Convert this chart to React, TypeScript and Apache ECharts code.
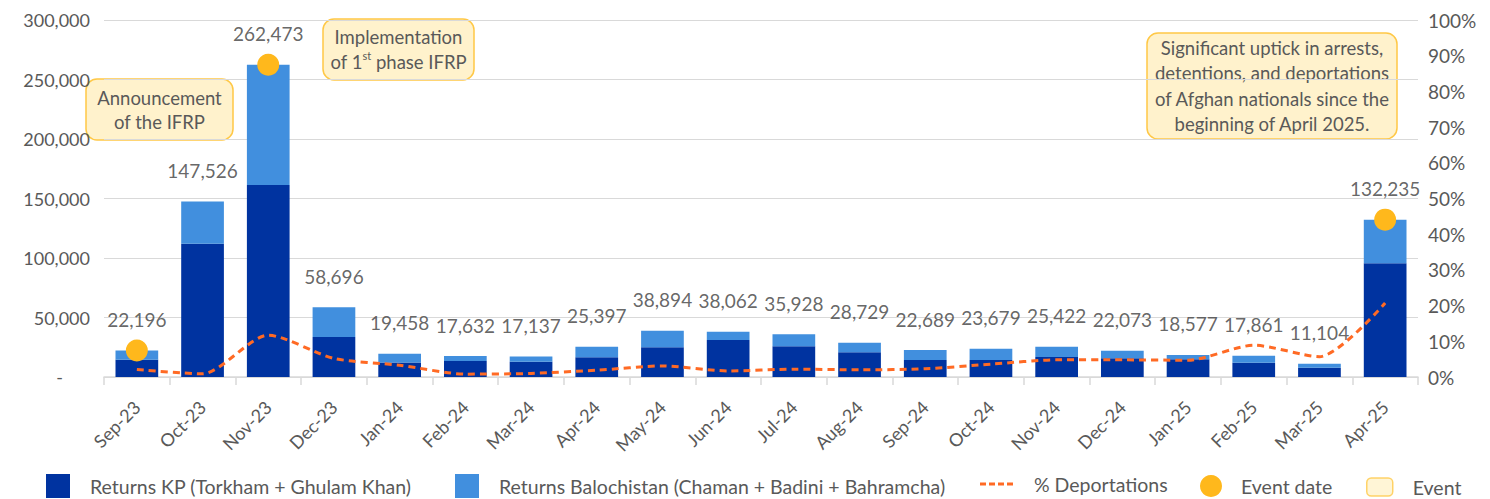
import React, { useEffect, useRef } from "react";
import * as echarts from "echarts";

const categories = ["Sep-23","Oct-23","Nov-23","Dec-23","Jan-24","Feb-24","Mar-24","Apr-24","May-24","Jun-24","Jul-24","Aug-24","Sep-24","Oct-24","Nov-24","Dec-24","Jan-25","Feb-25","Mar-25","Apr-25"];
const totals = [22196,147526,262473,58696,19458,17632,17137,25397,38894,38062,35928,28729,22689,23679,25422,22073,18577,17861,11104,132235];
const returnsKP = [14600,112000,161300,33600,12100,13400,12900,16500,25000,31000,25800,20700,14300,14300,16800,15700,15000,12000,7800,95500];
const returnsBal = [7596,35526,101173,25096,7358,4232,4237,8897,13894,7062,10128,8029,8389,9379,8622,6373,3577,5861,3304,36735];
const pctDeportations = [2.1,0.9,11.7,5.2,3.3,0.8,1.0,1.9,3.1,1.7,2.2,2.0,2.3,3.6,4.8,4.8,4.7,8.9,5.7,20.7];
const eventDates = [22196,null,262473,null,null,null,null,null,null,null,null,null,null,null,null,null,null,null,null,132235];

const FONT = "Lato, 'Open Sans', sans-serif";
const DARK = "#0033A0";
const LIGHT = "#418FDE";
const ORANGE = "#FF6A24";
const YELLOW = "#FFB81C";
const BOX_FILL = "#FFF2CC";
const BOX_STROKE = "#FFC846";
const TXT = "#404040";
const AX = "#595959";

function box(x: number, y: number, w: number, h: number, text: string, lh: number) {
  return {
    type: "group",
    x,
    y,
    children: [
      { type: "rect", shape: { x: 0, y: 0, width: w, height: h, r: 11 }, style: { fill: BOX_FILL, stroke: BOX_STROKE, lineWidth: 1.5 } },
      {
        type: "text",
        x: w / 2,
        y: h / 2,
        style: {
          text,
          fill: AX,
          fontFamily: FONT,
          fontSize: 18.5,
          align: "center",
          verticalAlign: "middle",
          lineHeight: lh,
          rich: {
            n: { fontSize: 18.5, fontFamily: FONT, fill: AX, lineHeight: lh },
            sup: { fontSize: 11, fontFamily: FONT, fill: AX, verticalAlign: "top", lineHeight: lh, padding: [0, 0, 8, 0] },
          },
        },
      },
    ],
  };
}

export default function App() {
  const ref = useRef<HTMLDivElement>(null);
  useEffect(() => {
    if (!ref.current) return;
    const chart = echarts.init(ref.current, undefined, { renderer: "svg" });
    const legendText = { color: AX, fontSize: 19.5, fontFamily: FONT, padding: [0, 0, 0, 15] };
    const lg = { selectedMode: false, padding: 0, textStyle: legendText };
    chart.setOption({
      animation: false,
      textStyle: { fontFamily: FONT },
      grid: { left: 104, right: 72, top: 20, bottom: 122 },
      legend: [
        { ...lg, left: 46, top: 474, itemWidth: 24, itemHeight: 24, icon: "rect", data: ["Returns KP (Torkham + Ghulam Khan)"] },
        { ...lg, left: 455, top: 474, itemWidth: 24, itemHeight: 24, icon: "rect", data: ["Returns Balochistan (Chaman + Badini + Bahramcha)"] },
        {
          ...lg,
          left: 980,
          top: 474,
          itemWidth: 33,
          itemHeight: 24,
          icon: "path://M0,0H6V3H0Z M9,0H15V3H9Z M18,0H24V3H18Z M27,0H33V3H27Z",
          textStyle: { ...legendText, padding: [0, 0, 0, 16] },
          data: [{ name: "% Deportations", itemStyle: { color: ORANGE } }],
        },
        { ...lg, left: 1200, top: 475, itemWidth: 22, itemHeight: 22, icon: "circle", textStyle: { ...legendText, padding: [0, 0, 0, 14] }, data: ["Event date"] },
        {
          ...lg,
          left: 1366,
          top: 477,
          itemWidth: 26,
          itemHeight: 18,
          icon: "roundRect",
          textStyle: { ...legendText, padding: [0, 0, 0, 15] },
          data: [{ name: "Event", itemStyle: { color: BOX_FILL, borderColor: BOX_STROKE, borderWidth: 1.5 } }],
        },
      ],
      xAxis: {
        type: "category",
        data: categories,
        boundaryGap: true,
        axisLine: { lineStyle: { color: "#D9D9D9", width: 1.5 } },
        axisTick: { show: true, length: 8, lineStyle: { color: "#D9D9D9", width: 1.5 } },
        axisLabel: { rotate: 45, color: AX, fontSize: 18, fontFamily: FONT, margin: 27, interval: 0 },
      },
      yAxis: [
        {
          type: "value",
          min: 0,
          max: 300000,
          interval: 50000,
          splitLine: { lineStyle: { color: "#D9D9D9", width: 1 } },
          axisLine: { show: false },
          axisTick: { show: false },
          axisLabel: {
            color: AX,
            fontSize: 18,
            fontFamily: FONT,
            margin: 14,
            formatter: (v: number) => (v === 0 ? "{d|-}" : v.toLocaleString("en-US")),
            rich: { d: { color: AX, fontSize: 18, fontFamily: FONT, padding: [0, 27, 0, 0] } },
          },
        },
        {
          type: "value",
          min: 0,
          max: 100,
          interval: 10,
          splitLine: { show: false },
          axisLine: { show: false },
          axisTick: { show: false },
          axisLabel: { color: AX, fontSize: 19, fontFamily: FONT, margin: 10, formatter: "{value}%" },
        },
      ],
      graphic: [
        box(86, 79, 147, 61, "Announcement\nof the IFRP", 24),
        box(323, 19, 151, 61, "{n|Implementation}\n{n|of 1}{sup|st}{n| phase IFRP}", 25),
        box(1147, 33, 250, 106, "Significant uptick in arrests,\ndetentions, and deportations\nof Afghan nationals since the\nbeginning of April 2025.", 25.5),
      ],
      series: [
        {
          name: "Returns KP (Torkham + Ghulam Khan)",
          type: "bar",
          stack: "r",
          barWidth: "65%",
          itemStyle: { color: DARK },
          data: returnsKP,
        },
        {
          name: "Returns Balochistan (Chaman + Badini + Bahramcha)",
          type: "bar",
          stack: "r",
          itemStyle: { color: LIGHT },
          data: returnsBal,
        },
        {
          name: "Total",
          type: "scatter",
          data: totals,
          symbolSize: 1,
          itemStyle: { color: "rgba(0,0,0,0)" },
          silent: true,
          label: {
            show: true,
            position: "top",
            distance: 21,
            color: TXT,
            fontSize: 19,
            fontFamily: FONT,
            formatter: (p: any) => Number(p.value).toLocaleString("en-US"),
          },
          labelLayout: { hideOverlap: false },
          z: 5,
        },
        {
          name: "% Deportations",
          type: "line",
          yAxisIndex: 1,
          data: pctDeportations,
          smooth: 0.25,
          symbol: "none",
          lineStyle: { color: ORANGE, width: 3, type: [7, 5] },
          itemStyle: { color: ORANGE },
          z: 6,
        },
        {
          name: "Event date",
          type: "scatter",
          data: eventDates,
          symbolSize: 22,
          itemStyle: { color: YELLOW, opacity: 1 },
          z: 7,
        },
        {
          name: "Event",
          type: "scatter",
          data: [],
          itemStyle: { color: BOX_FILL, borderColor: BOX_STROKE, borderWidth: 1.5 },
        },
      ],
    });
    return () => chart.dispose();
  }, []);
  return <div ref={ref} style={{ width: 1490, height: 499, position: "absolute", left: 0, top: 0 }} />;
}
